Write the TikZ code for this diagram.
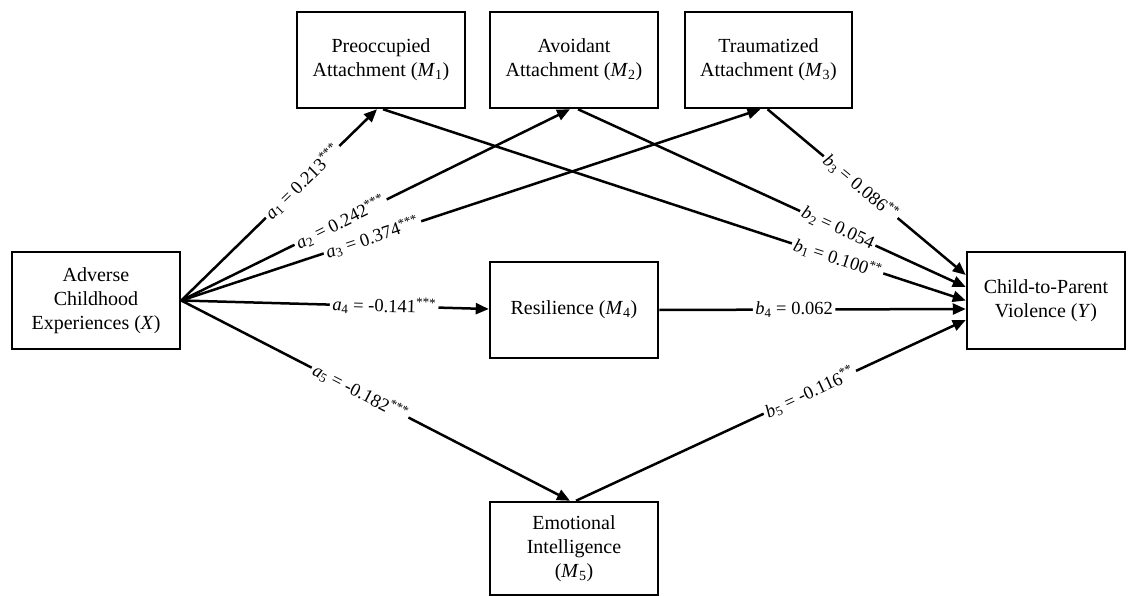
\documentclass[tikz,border=0pt]{standalone}
\usepackage{fontspec}
\setmainfont{Liberation Serif}
\usetikzlibrary{arrows.meta}
\begin{document}
\begin{tikzpicture}[x=1pt,y=-1pt,
  box/.style={draw, line width=2.5pt, rectangle, align=center, inner sep=0pt, font=\fontsize{20}{24}\selectfont},
  conn/.style={line width=2.5pt, -{Triangle[length=13pt,width=11pt]}},
  lab/.style={sloped, fill=white, inner sep=2.5pt, font=\fontsize{18.5}{20}\selectfont}]
\useasboundingbox[fill=white] (0,0) rectangle (1129,596);
\node[box, minimum width=168pt, minimum height=97pt] (X) at (96,300.5) {Adverse\\Childhood\\Experiences (\textit{X})};
\node[box, minimum width=158pt, minimum height=97pt] (Y) at (1046,300.5) {Child-to-Parent\\Violence (\textit{Y})};
\node[box, minimum width=168pt, minimum height=96pt] (M1) at (381,60) {Preoccupied\\Attachment (\textit{M}\textsubscript{1})};
\node[box, minimum width=168pt, minimum height=96pt] (M2) at (574,60) {Avoidant\\Attachment (\textit{M}\textsubscript{2})};
\node[box, minimum width=167pt, minimum height=96pt] (M3) at (768.5,60) {Traumatized\\Attachment (\textit{M}\textsubscript{3})};
\node[box, minimum width=168pt, minimum height=96pt] (M4) at (574,310) {Resilience (\textit{M}\textsubscript{4})};
\node[box, minimum width=168pt, minimum height=93pt] (M5) at (574,548.5) {Emotional\\Intelligence\\(\textit{M}\textsubscript{5})};

\draw[conn] (X.east) -- node[lab,pos=0.62]{\textit{a}\textsubscript{1} = 0.213\textsuperscript{***}} ([xshift=-4pt]M1.south);
\draw[conn] (X.east) -- node[lab,pos=0.41]{\textit{a}\textsubscript{2} = 0.242\textsuperscript{***}} ([xshift=-4pt]M2.south);
\draw[conn] (X.east) -- node[lab,pos=0.33]{\textit{a}\textsubscript{3} = 0.374\textsuperscript{***}} ([xshift=-8pt]M3.south);
\draw[conn] (X.east) -- node[lab,pos=0.66]{\textit{a}\textsubscript{4} = -0.141\textsuperscript{***}} ([yshift=1pt]M4.west);
\draw[conn] (X.east) -- node[lab,pos=0.46]{\textit{a}\textsubscript{5} = -0.182\textsuperscript{***}} ([xshift=-4pt]M5.north);

\draw[conn] ([xshift=2pt]M1.south) -- node[lab,pos=0.78]{\textit{b}\textsubscript{1} = 0.100\textsuperscript{**}} (Y.west);
\draw[conn] ([xshift=4pt]M2.south) -- node[lab,pos=0.67]{\textit{b}\textsubscript{2} = 0.054} ([yshift=13.5pt]Y.west);
\draw[conn] ([xshift=-1pt]M3.south) -- node[lab,pos=0.47]{\textit{b}\textsubscript{3} = 0.086\textsuperscript{**}} ([yshift=25.5pt]Y.west);
\draw[conn] (M4.east) -- node[lab,pos=0.44]{\textit{b}\textsubscript{4} = 0.062} ([yshift=-8.5pt]Y.west);
\draw[conn] ([xshift=2pt]M5.north) -- node[lab,pos=0.60]{\textit{b}\textsubscript{5} = -0.116\textsuperscript{**}} ([yshift=-19.5pt]Y.west);
\end{tikzpicture}
\end{document}
